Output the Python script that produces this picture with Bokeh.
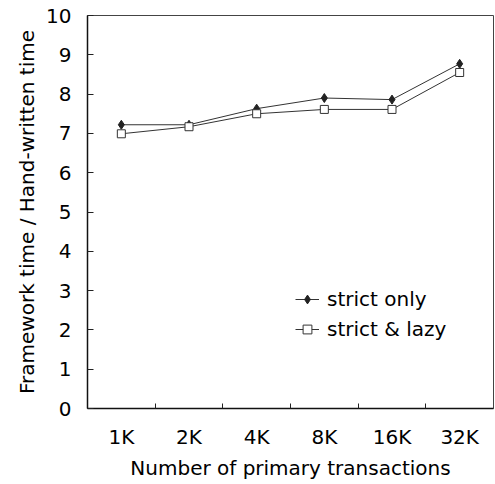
from bokeh.plotting import figure
from bokeh.models import Range1d, FixedTicker, Legend, LegendItem
from bokeh.embed import file_html
from bokeh.resources import INLINE

categories = ["1K", "2K", "4K", "8K", "16K", "32K"]
strict_only = [7.22, 7.22, 7.63, 7.90, 7.86, 8.77]
strict_lazy = [6.99, 7.17, 7.50, 7.61, 7.61, 8.55]
y_ticks = [0, 1, 2, 3, 4, 5, 6, 7, 8, 9, 10]

FONT = "DejaVu Sans"

xs = [i + 0.5 for i in range(len(categories))]
boundaries = [i for i in range(1, len(categories))]

p = figure(width=495, height=484, output_backend="svg", toolbar_location=None,
           x_range=Range1d(0, len(categories)), y_range=Range1d(0, 10),
           min_border_left=87, min_border_right=2, min_border_top=15, min_border_bottom=76)
p.background_fill_color = "white"
p.border_fill_color = "white"
p.outline_line_color = "#444444"
p.outline_line_width = 1
p.xgrid.visible = False
p.ygrid.visible = False

l1 = p.line(xs, strict_only, line_color="#333333", line_width=1)
m1 = p.scatter(xs, strict_only, marker="diamond", size=9, fill_color="#222222", line_color="#222222")
l2 = p.line(xs, strict_lazy, line_color="#333333", line_width=1)
m2 = p.scatter(xs, strict_lazy, marker="square", size=8, fill_color="white", line_color="#333333", line_width=1)

# x axis
xa = p.xaxis[0]
xa.ticker = FixedTicker(ticks=xs, minor_ticks=boundaries)
xa.major_label_overrides = {x: c for x, c in zip(xs, categories)}
xa.major_tick_in = 0
xa.major_tick_out = 0
xa.minor_tick_in = 5
xa.minor_tick_out = 0
xa.minor_tick_line_color = "#222222"
xa.axis_line_color = "#111111"
xa.axis_line_width = 1.5
xa.major_label_standoff = 16
xa.major_label_text_font = FONT
xa.major_label_text_font_size = "20px"
xa.major_label_text_color = "black"
xa.axis_label = "Number of primary transactions"
xa.axis_label_text_font = FONT
xa.axis_label_text_font_style = "normal"
xa.axis_label_text_font_size = "20px"
xa.axis_label_text_color = "black"
xa.axis_label_standoff = 4

ya = p.yaxis[0]
ya.ticker = FixedTicker(ticks=y_ticks)
ya.major_tick_in = 6
ya.major_tick_out = 0
ya.minor_tick_in = 0
ya.minor_tick_out = 0
ya.major_tick_line_color = "#222222"
ya.axis_line_color = "#111111"
ya.axis_line_width = 1.5
ya.major_label_standoff = 16
ya.major_label_text_font = FONT
ya.major_label_text_font_size = "20px"
ya.major_label_text_color = "black"
ya.axis_label = "Framework time / Hand-written time"
ya.axis_label_text_font = FONT
ya.axis_label_text_font_style = "normal"
ya.axis_label_text_font_size = "20px"
ya.axis_label_text_color = "black"
ya.axis_label_standoff = 4

legend = Legend(items=[LegendItem(label="strict only", renderers=[l1, m1]),
                       LegendItem(label="strict & lazy", renderers=[l2, m2])],
                location=(208, 67))
legend.background_fill_alpha = 0
legend.border_line_alpha = 0
legend.padding = 0
legend.margin = 0
legend.spacing = 6
legend.glyph_width = 24
legend.glyph_height = 22
legend.label_height = 22
legend.label_standoff = 8
legend.label_text_font = FONT
legend.label_text_font_size = "20px"
legend.label_text_color = "black"
p.add_layout(legend, "center")

open("out.html", "w").write(file_html(p, INLINE))
